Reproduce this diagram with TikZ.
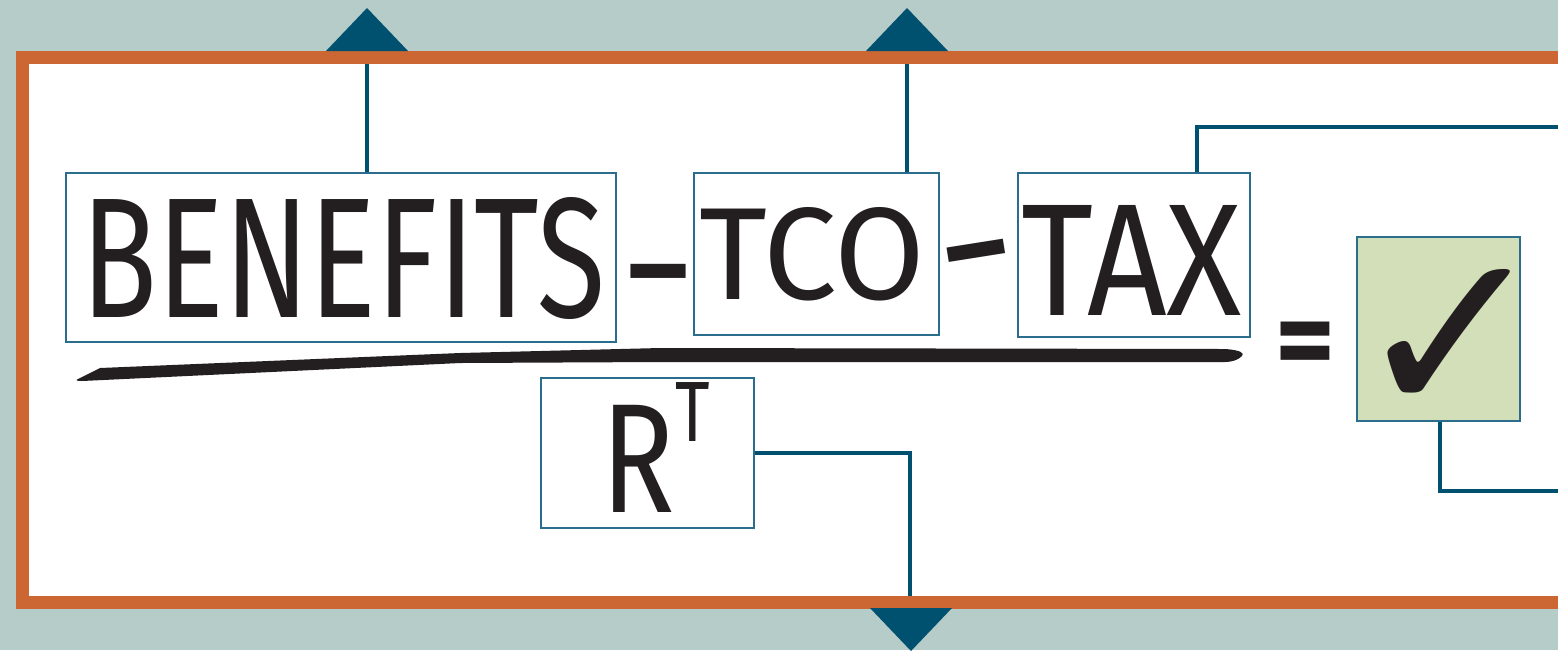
\documentclass[tikz,border=0pt]{standalone}
\usepackage{fontspec}
\usepackage{graphicx}
\newfontfamily\handfont{Fira Sans}
\newfontfamily\symfont{DejaVu Sans}
\definecolor{bgteal}{HTML}{B5CCC9}
\definecolor{frameorange}{HTML}{CC6633}
\definecolor{linkblue}{HTML}{00506F}
\definecolor{boxblue}{HTML}{2A6D8C}
\definecolor{checkgreen}{HTML}{D2DFB9}
\definecolor{inkc}{HTML}{231F20}
\begin{document}
\begin{tikzpicture}[x=0.5pt,y=-0.5pt,
  conn/.style={draw=linkblue, line width=2.1pt},
  termbox/.style={draw=boxblue, line width=0.7pt, fill=white, inner sep=0pt},
  ink/.style={text=inkc, inner sep=0pt, font=\handfont},
  tri/.style={fill=linkblue}]
\useasboundingbox (0,0) rectangle (1558,650);
\clip (0,0) rectangle (1558,650);
% backdrop and white panel
\fill[bgteal] (0,0) rectangle (1558,650);
\fill[white] (22.5,57.5) rectangle (1565,602);

% term boxes
\node[termbox, minimum width=275pt, minimum height=84.5pt] (ben) at (341,257.5) {};
\node[termbox, minimum width=122.5pt, minimum height=81pt] (tco) at (816.5,254) {};
\node[termbox, minimum width=116pt, minimum height=82pt] (tax) at (1134,255) {};
\node[termbox, minimum width=106.5pt, minimum height=75pt] (rt) at (647.5,453) {};
\node[termbox, fill=checkgreen, minimum width=81.5pt, minimum height=92pt] (chk) at (1438.5,329) {};

% connector end points on the frame
\coordinate (fA) at (367,57.5);
\coordinate (fB) at (907,57.5);
\coordinate (tA) at (1197,127);
\coordinate (fC) at (1565,127);
\coordinate (cA) at (1440,491);
\coordinate (fD) at (1565,491);
\coordinate (rA) at (910,453);
\coordinate (fE) at (910,602);

\draw[conn] (fA |- ben.north) -- (fA);
\draw[conn] (fB |- tco.north) -- (fB);
\draw[conn] (tA |- tax.north) -- (tA) -- (fC);
\draw[conn] (cA |- chk.south) -- (cA) -- (fD);
\draw[conn] (rt.east |- rA) -- (rA) -- (fE);

% frame
\draw[frameorange, line width=6.5pt] (22.5,57.5) rectangle (1570,602);

% arrow heads outside the frame
\fill[tri] (326,51) -- (367,8) -- (408,51) -- cycle;
\fill[tri] (866,51) -- (907,8) -- (948,51) -- cycle;
\fill[tri] (870,608) -- (911,651) -- (952,608) -- cycle;

% equation
\node[ink] (t1) at (343.5,258) {\resizebox{261.5pt}{60pt}{BENEFITS}};
\node[ink] (m1) at (658,286) {\resizebox{30pt}{!}{\bfseries –}};
\node[ink] (t2) at (812.5,254) {\resizebox{112.5pt}{46pt}{TCO}};
\node[ink, rotate=9] (m2) at (979,266) {\resizebox{31pt}{!}{\bfseries –}};
\node[ink] (t3) at (1132,260) {\resizebox{110pt}{55pt}{TAX}};
\node[ink] (eq) at (1305,351) {\resizebox{30pt}{!}{\bfseries =}};
\node[ink] (ck) at (1452,342) {\resizebox*{99pt}{73pt}{\symfont ✓}};
\node[ink] (t4) at (656,447.5) {\resizebox{54pt}{64.5pt}{R\raisebox{.45em}{\scalebox{.55}{T}}}};

% fraction bar
\fill[inkc] (78,379) -- (100,368) -- (460,353) -- (660,348) -- (1225,349)
  .. controls (1240,350) and (1245,353) .. (1242,356)
  .. controls (1238,360) and (1232,362) .. (1225,362)
  -- (660,362) -- (460,363) -- (82,381)
  .. controls (76,381) and (75,380) .. (78,379) -- cycle;
\end{tikzpicture}
\end{document}
